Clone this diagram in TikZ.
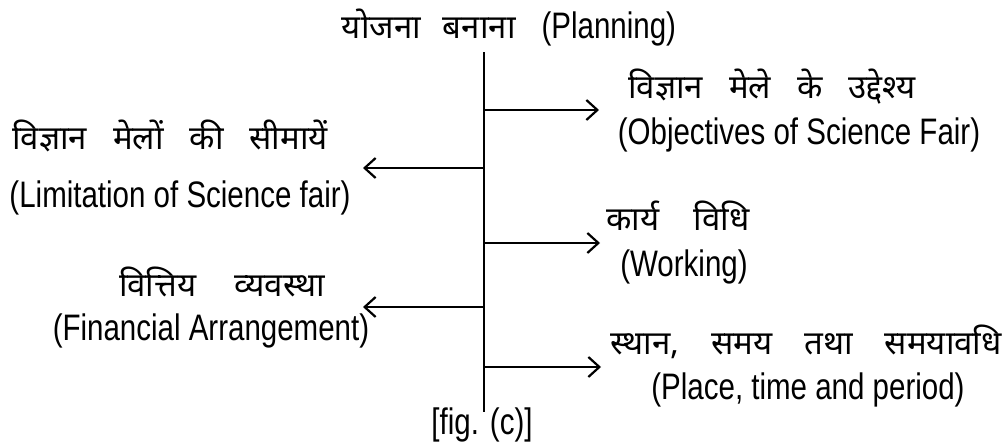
\documentclass[tikz,border=0pt]{standalone}
\usepackage{fontspec}
\usepackage{graphicx}
\setmainfont{Liberation Sans}
\newfontfamily\hindi[Script=Devanagari]{Noto Sans}
\usetikzlibrary{arrows.meta}
\newcommand{\hs}[1][26pt]{\hspace{#1}}
\newcommand{\E}[1]{\scalebox{1}[1.25]{#1}}
\begin{document}
\begin{tikzpicture}[x=1pt,y=-1pt,
  eng/.style={inner sep=0pt,font=\fontsize{29.5}{35}\selectfont},
  hin/.style={inner sep=0pt,font=\fontsize{33}{38}\hindi},
  conn/.style={line width=2.2pt},
  arr/.style={conn,-{Straight Barb[length=11pt,width=20pt,line width=2.2pt]}}]
\useasboundingbox (0,0) rectangle (1008,445);
% title
\node[eng] (plan) at (509,28) {{\hindi\fontsize{33}{38}\selectfont योजना\hs[22pt]बनाना}\hs[26pt]\E{(Planning)}};
\node[eng] (fig) at (482,425) {\E{[fig. (c)]}};
% spine
\coordinate (vtop) at (484,52);
\coordinate (vbot) at (484,412);
\draw[conn] (vtop) -- (vbot);
% branch points
\coordinate (b1) at (484,110);
\coordinate (b2) at (484,168);
\coordinate (b3) at (484,243);
\coordinate (b4) at (484,307);
\coordinate (b5) at (484,367);
\coordinate (t1) at (599,110);
\coordinate (t2) at (363,168);
\coordinate (t3) at (600,243);
\coordinate (t4) at (363,307);
\coordinate (t5) at (601,367);
\draw[arr] (b1) -- (t1);
\draw[arr] (b2) -- (t2);
\draw[arr] (b3) -- (t3);
\draw[arr] (b4) -- (t4);
\draw[arr] (b5) -- (t5);
% labels
\node[hin] (objh) at (772,87) {विज्ञान\hs मेले\hs के\hs उद्देश्य};
\node[eng] (obje) at (799,135) {\E{(Objectives of Science Fair)}};
\node[hin] (limh) at (170,136) {विज्ञान\hs मेलों\hs की\hs सीमायें};
\node[eng] (lime) at (180,198) {\E{(Limitation of Science fair)}};
\node[hin] (workh) at (678,216) {कार्य\hs[34pt]विधि};
\node[eng] (worke) at (684,267) {\E{(Working)}};
\node[hin] (finh) at (222,282) {वित्तिय\hs[38pt]व्यवस्था};
\node[eng] (fine) at (211,331) {\E{(Financial Arrangement)}};
\node[hin] (placeh) at (806,342) {स्थान,\hs[32pt]समय\hs[32pt]तथा\hs[32pt]समयावधि};
\node[eng] (placee) at (808,390) {\E{(Place, time and period)}};
\end{tikzpicture}
\end{document}
